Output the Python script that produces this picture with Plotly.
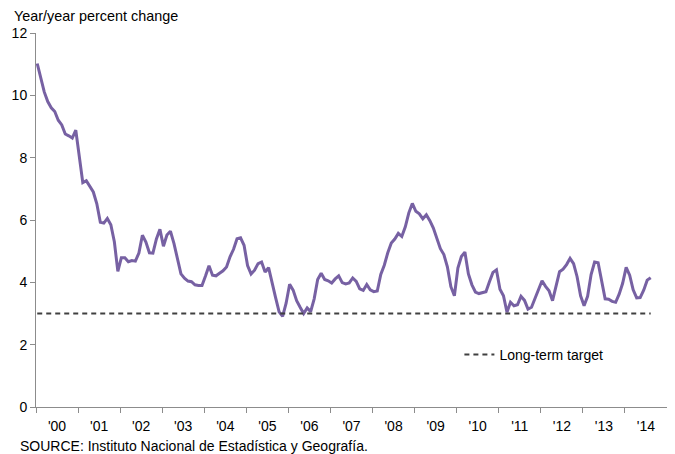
import plotly.graph_objects as go

# Mexico consumer price inflation, year/year percent change, monthly Jan 2000 - Aug 2014
y2000 = [11.02, 10.52, 10.11, 9.80, 9.60, 9.48, 9.20, 9.05, 8.76, 8.70, 8.63, 8.88]
y2001 = [8.11, 7.20, 7.26, 7.10, 6.90, 6.52, 5.93, 5.90, 6.05, 5.85, 5.30, 4.35]
y2002 = [4.79, 4.79, 4.66, 4.70, 4.68, 4.94, 5.51, 5.29, 4.95, 4.94, 5.39, 5.70]
y2003 = [5.16, 5.52, 5.64, 5.25, 4.70, 4.27, 4.13, 4.04, 4.02, 3.92, 3.90, 3.90]
y2004 = [4.20, 4.53, 4.23, 4.21, 4.29, 4.37, 4.49, 4.82, 5.06, 5.40, 5.43, 5.19]
y2005 = [4.54, 4.27, 4.39, 4.60, 4.65, 4.33, 4.47, 3.95, 3.51, 3.05, 2.91, 3.33]
y2006 = [3.94, 3.75, 3.41, 3.20, 3.00, 3.18, 3.06, 3.47, 4.09, 4.29, 4.09, 4.05]
y2007 = [3.98, 4.11, 4.21, 3.99, 3.95, 3.98, 4.14, 4.03, 3.79, 3.74, 3.93, 3.76]
y2008 = [3.70, 3.72, 4.25, 4.55, 4.95, 5.26, 5.39, 5.57, 5.47, 5.78, 6.23, 6.53]
y2009 = [6.28, 6.20, 6.04, 6.17, 5.98, 5.74, 5.44, 5.08, 4.89, 4.50, 3.86, 3.57]
y2010 = [4.46, 4.83, 4.97, 4.27, 3.92, 3.69, 3.64, 3.68, 3.70, 4.02, 4.32, 4.40]
y2011 = [3.78, 3.57, 3.04, 3.36, 3.25, 3.28, 3.55, 3.42, 3.14, 3.20, 3.48, 3.82]
y2012 = [4.05, 3.87, 3.73, 3.41, 3.85, 4.34, 4.42, 4.57, 4.77, 4.60, 4.18, 3.57]
y2013 = [3.25, 3.55, 4.25, 4.65, 4.63, 4.09, 3.47, 3.46, 3.39, 3.36, 3.62, 3.97]
y2014 = [4.48, 4.23, 3.76, 3.50, 3.51, 3.75, 4.07, 4.15]

inflation = (y2000 + y2001 + y2002 + y2003 + y2004 + y2005 + y2006 + y2007 +
             y2008 + y2009 + y2010 + y2011 + y2012 + y2013 + y2014)
target_value = 3.0
years = list(range(2000, 2015))
year_labels = ["'" + str(y)[2:] for y in years]
y_ticks = [0, 2, 4, 6, 8, 10, 12]

months = list(range(len(inflation)))
target = [target_value] * len(months)

OFF = -0.35
AXIS_GRAY = "#8c8c8c"
FONT = "Liberation Sans, Arial, sans-serif"

fig = go.Figure()
fig.add_trace(go.Scatter(
    x=months, y=inflation, mode="lines",
    line=dict(color="#7761a3", width=3), showlegend=False,
    name="Inflation"))
fig.add_trace(go.Scatter(
    x=months, y=target, mode="lines",
    line=dict(color="#404040", width=2, dash="5px,4px"),
    name="Long-term target", showlegend=True))

# The page body adds an 8px margin, so the figure is sized to fit the window.
fig.update_layout(
    width=667, height=446,
    margin=dict(l=28, r=8, t=25, b=47, autoexpand=False),
    paper_bgcolor="white", plot_bgcolor="white",
    font=dict(family=FONT, size=14, color="#000000"),
    legend=dict(x=0.671, y=0.139, xanchor="left", yanchor="middle",
                bgcolor="rgba(0,0,0,0)", font=dict(size=14),
                itemwidth=30, tracegroupgap=0),
    annotations=[
        dict(text="Year/year percent change", xref="paper", yref="paper",
             x=-0.038, y=1.045, xanchor="left", yanchor="middle",
             showarrow=False, font=dict(size=14.4)),
        dict(text="SOURCE: Instituto Nacional de Estadística y Geografía.",
             xref="paper", yref="paper", x=-0.0285, y=-0.104,
             xanchor="left", yanchor="middle", showarrow=False,
             font=dict(size=14)),
    ],
)

fig.update_xaxes(
    automargin=False,
    range=[OFF, 12 * len(years) + OFF],
    tickmode="array",
    tickvals=[12 * i + 6 + OFF for i in range(len(years))],
    ticktext=year_labels,
    ticks="", showgrid=False, zeroline=False,
    showline=True, linecolor=AXIS_GRAY, linewidth=1,
    ticklabelstandoff=6,
    minor=dict(tickmode="array",
               tickvals=[12 * i + OFF for i in range(len(years) + 1)],
               ticks="outside", ticklen=5, tickcolor=AXIS_GRAY,
               tickwidth=1, showgrid=False),
)
fig.update_yaxes(
    automargin=False,
    range=[0, 12], tickmode="array", tickvals=y_ticks,
    ticks="outside", ticklen=5, tickcolor=AXIS_GRAY, tickwidth=1,
    showgrid=False, zeroline=False,
    showline=True, linecolor=AXIS_GRAY, linewidth=1,
)

fig.write_html("out.html")
